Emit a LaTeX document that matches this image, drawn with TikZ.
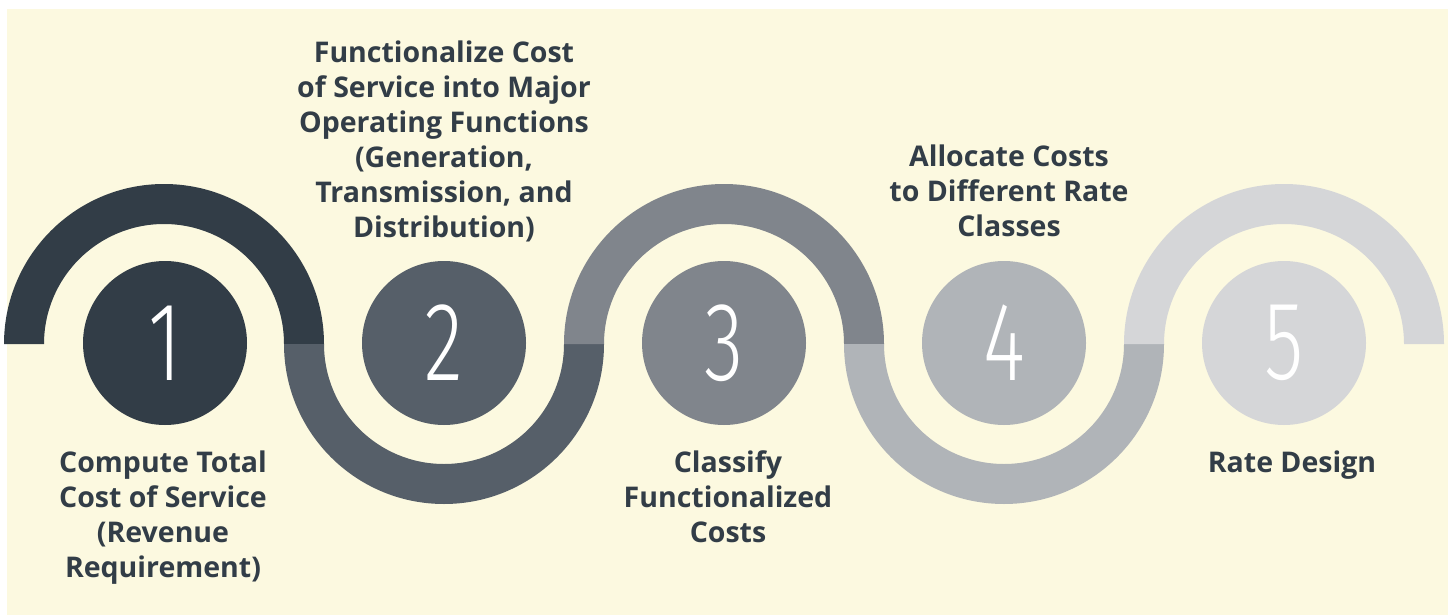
\documentclass[tikz,border=0pt]{standalone}
\usepackage{fontspec}
\setmainfont{Open Sans}
\newfontfamily\labfont{Open Sans Bold}
\newfontfamily\numfont[FakeStretch=0.72]{Fira Sans Light}
\definecolor{bgc}{HTML}{FCF9E0}
\definecolor{cA}{HTML}{323D47}
\definecolor{cB}{HTML}{565F69}
\definecolor{cC}{HTML}{80858C}
\definecolor{cD}{HTML}{B0B4B8}
\definecolor{cE}{HTML}{D5D6D8}
\tikzset{
  numdisc/.style={circle,minimum size=164pt,inner sep=0pt,text=white,font=\numfont\fontsize{112}{112}\selectfont},
  lab/.style={align=center,inner sep=0pt,text=cA,font=\labfont\fontsize{28.5}{35}\selectfont,anchor=base}
}
\begin{document}
\begin{tikzpicture}[x=1pt,y=-1pt]
\useasboundingbox (0,0) rectangle (1448,615);
\fill[bgc] (7,9) rectangle (1448,615);
% top arcs
\def\topar#1#2{\fill[#2] (#1-160,344) arc[start angle=180,end angle=360,radius=160] -- (#1+120,344) arc[start angle=360,end angle=180,radius=120] -- cycle;}
\def\botar#1#2{\fill[#2] (#1-160,344) arc[start angle=180,end angle=0,radius=160] -- (#1+120,344) arc[start angle=0,end angle=180,radius=120] -- cycle;}
\topar{164}{cA}
\botar{444}{cB}
\topar{724}{cC}
\botar{1004}{cD}
\topar{1284}{cE}
\node[numdisc,fill=cA] (n1) at (165,343) {1};
\node[numdisc,fill=cB] (n2) at (444,343) {2};
\node[numdisc,fill=cC] (n3) at (724,343) {3};
\node[numdisc,fill=cD] (n4) at (1004,343) {4};
\node[numdisc,fill=cE] (n5) at (1284,343) {5};
\node[lab] (t1) at (163,577) {Compute Total\\Cost of Service\\(Revenue\\Requirement)};
\node[lab] (t2) at (444,237) {Functionalize Cost\\of Service into Major\\Operating Functions\\(Generation,\\Transmission, and\\Distribution)};
\node[lab] (t3) at (728,542) {Classify\\Functionalized\\Costs};
\node[lab] (t4) at (1009,236) {Allocate Costs\\to Different Rate\\Classes};
\node[lab] (t5) at (1292,472) {Rate Design};
\end{tikzpicture}
\end{document}
